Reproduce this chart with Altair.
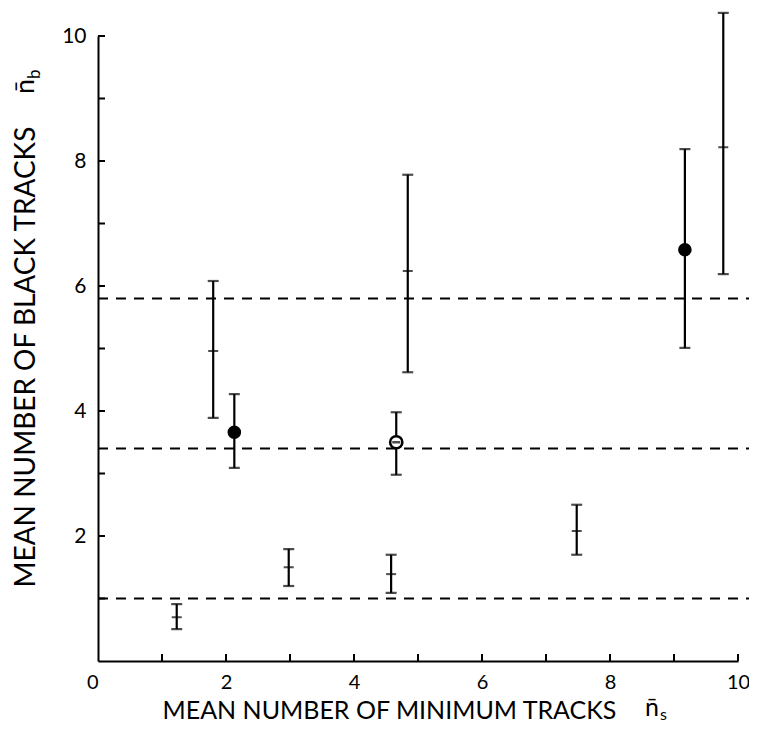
import altair as alt
import pandas as pd

# ---- data ----
xs     = [1.23, 2.98, 4.58, 7.48, 1.80, 2.13, 4.66, 4.84, 9.17, 9.77]
ys     = [0.70, 1.50, 1.39, 2.08, 4.96, 3.66, 3.50, 6.24, 6.58, 8.22]
lows   = [0.51, 1.20, 1.09, 1.70, 3.89, 3.09, 2.98, 4.62, 5.01, 6.19]
highs  = [0.91, 1.79, 1.70, 2.50, 6.08, 4.27, 3.98, 7.78, 8.19, 10.37]
kinds  = ["cross", "cross", "cross", "cross", "cross", "filled", "half", "cross", "filled", "cross"]
levels = [1.0, 3.4, 5.8]
tick_values = list(range(1, 11))
axis_values = list(range(0, 11))

W, H = 640, 625
FONT = "Lato"

df = pd.DataFrame({"x": xs, "y": ys, "lo": lows, "hi": highs, "kind": kinds})
df_lev = pd.DataFrame({"y": levels})
df_tx = pd.DataFrame({"x": tick_values})
df_ty = pd.DataFrame({"y": tick_values})

xscale = alt.Scale(domain=[0, 10], nice=False, zero=False)
yscale = alt.Scale(domain=[0, 10], nice=False, zero=False)

x_axis = alt.Axis(
    values=axis_values, ticks=False, grid=False,
    labelExpr="datum.value % 2 == 0 ? datum.label : ''",
    labelAlign={"condition": {"test": "datum.value == 0", "value": "right"}, "value": "center"},
    labelFont=FONT, labelFontSize=20, labelColor="black", labelPadding=11,
    domainColor="black", domainWidth=2,
    title="MEAN NUMBER OF MINIMUM TRACKS", titleFont=FONT, titleFontSize=25,
    titleFontWeight="normal", titleColor="black",
    titleAlign="left", titleAnchor="start", titleBaseline="alphabetic",
    titleX=64, titleY=57,
)
y_axis = alt.Axis(
    values=axis_values, ticks=False, grid=False,
    labelExpr="datum.value % 2 == 0 && datum.value > 0 ? datum.label : ''",
    labelFont=FONT, labelFontSize=21, labelColor="black", labelPadding=12,
    domainColor="black", domainWidth=2,
    title="MEAN NUMBER OF BLACK TRACKS", titleFont=FONT, titleFontSize=28,
    titleFontWeight="normal", titleColor="black",
    titleAngle=270, titleAlign="left", titleAnchor="start", titleBaseline="alphabetic",
    titleX=-64, titleY=551,
)

def X(field):
    return alt.X(field, type="quantitative", scale=xscale, axis=x_axis)

def Y(field):
    return alt.Y(field, type="quantitative", scale=yscale, axis=y_axis)

base = alt.Chart(df)

dashed = alt.Chart(df_lev).mark_rule(color="black", strokeWidth=1.8, strokeDash=[10, 8]).encode(
    y=Y("y"), x=alt.value(0), x2=alt.value(652),
)

bars = base.mark_rule(color="black", strokeWidth=2.2).encode(
    x=X("x"), y=Y("lo"), y2="hi:Q",
)
cap_hi = base.mark_tick(orient="horizontal", color="black", size=11, thickness=2.2).encode(
    x=X("x"), y=Y("hi"),
)
cap_lo = base.mark_tick(orient="horizontal", color="black", size=11, thickness=2.2).encode(
    x=X("x"), y=Y("lo"),
)
centers = base.transform_filter("datum.kind != 'filled'").mark_tick(
    orient="horizontal", color="black", size=10, thickness=2
).encode(x=X("x"), y=Y("y"))
filled = base.transform_filter("datum.kind == 'filled'").mark_point(
    shape="circle", filled=True, color="black", size=185, opacity=1
).encode(x=X("x"), y=Y("y"))
half = base.transform_filter("datum.kind == 'half'").mark_point(
    shape="circle", filled=False, fill="white", fillOpacity=1, stroke="black", strokeWidth=2.5, size=150, opacity=1
).encode(x=X("x"), y=Y("y"))
half_bar = base.transform_filter("datum.kind == 'half'").mark_tick(
    orient="horizontal", color="black", size=8, thickness=2.5
).encode(x=X("x"), y=Y("y"))

xticks = alt.Chart(df_tx).mark_rule(color="black", strokeWidth=2).encode(
    x=X("x"), y=alt.value(H), y2=alt.value(H - 7),
)
yticks = alt.Chart(df_ty).mark_rule(color="black", strokeWidth=2).encode(
    y=Y("y"), x=alt.value(0), x2=alt.value(7),
)

# symbol parts of the axis titles (n-bar with subscripts)
sym = pd.DataFrame({"t": ["n\u0304"]})
xs_n = alt.Chart(sym).mark_text(font=FONT, fontSize=25, color="black", align="left", baseline="alphabetic").encode(
    text="t:N", x=alt.value(547), y=alt.value(680))
xs_s = alt.Chart(pd.DataFrame({"t": ["s"]})).mark_text(font=FONT, fontSize=16, color="black", align="left", baseline="alphabetic").encode(
    text="t:N", x=alt.value(562), y=alt.value(684))
ys_n = alt.Chart(sym).mark_text(font=FONT, fontSize=27, color="black", align="left", baseline="alphabetic", angle=270).encode(
    text="t:N", x=alt.value(-64), y=alt.value(58))
ys_b = alt.Chart(pd.DataFrame({"t": ["b"]})).mark_text(font=FONT, fontSize=17, color="black", align="left", baseline="alphabetic", angle=270).encode(
    text="t:N", x=alt.value(-58), y=alt.value(43))

chart = alt.layer(
    dashed, bars, cap_hi, cap_lo, centers, filled, half, half_bar, xticks, yticks,
    xs_n, xs_s, ys_n, ys_b,
).properties(
    width=W, height=H,
    padding={"left": 90, "top": 28, "right": 11, "bottom": 61},
    autosize=alt.AutoSizeParams(type="none"),
    background="white",
).configure_view(stroke=None)

chart.save("out.html", embed_options={"renderer": "svg", "actions": False})
